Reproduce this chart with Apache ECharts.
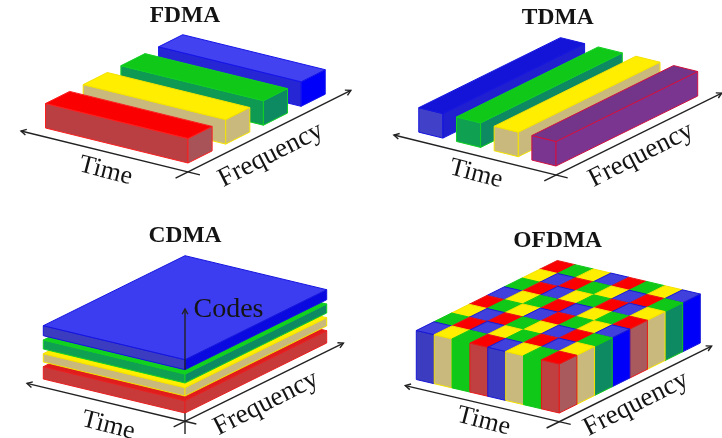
<!DOCTYPE html>
<html><head><meta charset="utf-8">
<style>html,body{margin:0;padding:0;background:#fff}#c{width:722px;height:438px;filter:blur(0.45px)}</style>
<script src="https://cdn.jsdelivr.net/npm/echarts@6/dist/echarts.min.js"></script>
</head><body><div id="c"></div>
<script>
// ---- data ----
const panelNames = ['FDMA', 'TDMA', 'CDMA', 'OFDMA'];
const timeLabel = 'Time';
const frequencyLabel = 'Frequency';
const codesLabel = 'Codes';
// FDMA: one band per frequency slot, nearest first
const fdmaBands = ['red', 'yellow', 'green', 'blue'];
// TDMA: one band per time slot, nearest first
const tdmaSlots = ['purple', 'yellow', 'green', 'blue'];
// CDMA: stacked code layers, lowest first, heights in picture units
const cdmaLayers = ['red', 'yellow', 'green', 'blue'];
const cdmaBottoms = [0, 17, 30, 43.3];
const cdmaTops = [12.3, 25.3, 39, 53.3];
// OFDMA: resource grid; row = frequency index, letter = time index (near to far)
const ofdmaRows = [
  'RGYBRGYB', 'YBRGYBRG', 'GRBYGRBY', 'BYGRBYGR',
  'RGYBRGYB', 'YBRGYBRG', 'GRBYGRBY', 'BYGRBYGR'
];
const letterColour = { R: 'red', G: 'green', Y: 'yellow', B: 'blue' };

// ---- palettes: top, left (front-left face), right (front-right face), edge ----
const yellowFace = { top: '#ffee00', left: '#c9b97c', right: '#c9b97c', edge: '#f4e200' };
const palettes = {
  FDMA: {
    red: { top: '#fb0000', left: '#b93f42', right: '#a85358', edge: '#fb2020' },
    yellow: yellowFace,
    green: { top: '#10c818', left: '#0e9a52', right: '#0e8a62', edge: '#10d022' },
    blue: { top: '#4242f0', left: '#2626d4', right: '#0000fa', edge: '#1414ea' }
  },
  TDMA: {
    purple: { top: '#72358a', left: '#7a3590', right: '#7a3590', edge: '#d01040' },
    yellow: yellowFace,
    green: { top: '#10c818', left: '#10a052', right: '#0e8a62', edge: '#10d022' },
    blue: { top: '#1414d8', left: '#4040c8', right: '#2020d0', edge: '#1414e0' }
  },
  CDMA: {
    red: { top: '#e01c1c', left: '#c83a3a', right: '#c83a3a', edge: '#e82020' },
    yellow: yellowFace,
    green: { top: '#10d020', left: '#10a052', right: '#0e8a62', edge: '#10d022' },
    blue: { top: '#3c3cf0', left: '#3c3cc0', right: '#0a0ae0', edge: '#1414e0' }
  },
  OFDMA: {
    red: { top: '#fb0000', left: '#c04042', right: '#a85a5c', edge: '#e81818' },
    yellow: yellowFace,
    green: { top: '#10c818', left: '#10c818', right: '#0e8a62', edge: '#10c818' },
    blue: { top: '#4040dc', left: '#3c3cc0', right: '#0000fa', edge: '#1818d8' }
  }
};

// ---- boxes in logical (time, frequency, height) units ----
const BAR = 0.64;
const fdmaBoxes = [...fdmaBands.keys()].reverse().map(i => ({ t0: 0, t1: 1, f0: i, f1: i + BAR, z0: 0, z1: 24.5, c: fdmaBands[i] }));
const tdmaBoxes = [...tdmaSlots.keys()].reverse().map(i => ({ t0: i, t1: i + BAR, f0: 0, f1: 1, z0: 0, z1: 24.5, c: tdmaSlots[i] }));
const cdmaBoxes = cdmaLayers.map((c, i) => ({ t0: 0, t1: 1, f0: 0, f1: 1, z0: cdmaBottoms[i], z1: cdmaTops[i], c }));
const ofdmaBoxes = [];
for (let j = ofdmaRows.length - 1; j >= 0; j--) {
  for (let i = ofdmaRows[j].length - 1; i >= 0; i--) {
    ofdmaBoxes.push({ t0: i / 8, t1: (i + 1) / 8, f0: j / 8, f1: (j + 1) / 8, z0: 0, z1: 49, c: letterColour[ofdmaRows[j][i]] });
  }
}

// ---- oblique projections for each panel ----
const panels = [
  { name: 'FDMA', boxes: fdmaBoxes, o: [188, 163], tv: [-142.5, -35], fv: [37.7, -18.9], axisZ: -9,
    tSpan: [-0.084, 1.172], fSpan: [-0.33, 4.32],
    title: [185, 16], time: [105.7, 171], freq: [270.7, 155] },
  { name: 'TDMA', boxes: tdmaBoxes, o: [556, 166], tv: [-37.7, -9.3], fv: [141.7, -70], axisZ: -9,
    tSpan: [-0.31, 4.3], fSpan: [-0.083, 1.17],
    title: [557.7, 18.3], time: [476, 174], freq: [641, 155] },
  { name: 'CDMA', boxes: cdmaBoxes, o: [185, 413], tv: [-141.7, -34], fv: [141.7, -70], axisZ: -8.3,
    tSpan: [-0.08, 1.115], fSpan: [-0.08, 1.118],
    title: [185, 235.7], time: [108.3, 425.7], freq: [266, 403.3], codes: [193.5, 309.7], zLow: [-21, 0], zHigh: [43.3, 104] },
  { name: 'OFDMA', boxes: ofdmaBoxes, o: [559.3, 413], tv: [-143, -33.5], fv: [141, -70], axisZ: -8.7,
    tSpan: [-0.08, 1.077], fSpan: [-0.09, 1.08],
    title: [557.7, 240.7], time: [483.7, 421.3], freq: [636, 404] }
];
const project = (p, t, f, z) => [p.o[0] + t * p.tv[0] + f * p.fv[0], p.o[1] + t * p.tv[1] + f * p.fv[1] - z];

const AXIS_COLOUR = '#222222';
const TEXT_COLOUR = '#141414';
const FONT = '"Liberation Serif", serif';

function boxRender(p) {
  return (params, api) => {
    const b = p.boxes[params.dataIndex];
    const s = palettes[p.name][b.c];
    const c = (t, f, z) => api.coord(project(p, t, f, z));
    const face = (points, fill) => ({
      type: 'polygon', shape: { points },
      style: { fill, stroke: s.edge, lineWidth: 1, lineJoin: 'round' }
    });
    return {
      type: 'group',
      children: [
        face([c(b.t0, b.f0, b.z1), c(b.t1, b.f0, b.z1), c(b.t1, b.f0, b.z0), c(b.t0, b.f0, b.z0)], s.left),
        face([c(b.t0, b.f0, b.z1), c(b.t0, b.f1, b.z1), c(b.t0, b.f1, b.z0), c(b.t0, b.f0, b.z0)], s.right),
        face([c(b.t0, b.f0, b.z1), c(b.t1, b.f0, b.z1), c(b.t1, b.f1, b.z1), c(b.t0, b.f1, b.z1)], s.top)
      ]
    };
  };
}

function arrow(from, to, withHead) {
  const children = [{ type: 'line', shape: { x1: from[0], y1: from[1], x2: to[0], y2: to[1] },
    style: { stroke: AXIS_COLOUR, lineWidth: 1.4 } }];
  if (withHead) {
    const a = Math.atan2(to[1] - from[1], to[0] - from[0]);
    const back = d => [to[0] - 6 * Math.cos(a + d), to[1] - 6 * Math.sin(a + d)];
    children.push({ type: 'polyline', shape: { points: [back(0.5), to, back(-0.5)] },
      style: { stroke: AXIS_COLOUR, fill: null, lineWidth: 1.4 } });
  }
  return children;
}

function axisRender(p) {
  return (params, api) => {
    const c = (t, f, z) => api.coord(project(p, t, f, z));
    const children = [
      ...arrow(c(p.tSpan[0], 0, p.axisZ), c(p.tSpan[1], 0, p.axisZ), true),
      ...arrow(c(0, p.fSpan[0], p.axisZ), c(0, p.fSpan[1], p.axisZ), true)
    ];
    if (p.zLow) children.push(...arrow(c(0, 0, p.zLow[0]), c(0, 0, p.zLow[1]), false));
    return { type: 'group', children };
  };
}

function upperAxisRender(p) {
  return (params, api) => {
    const c = (t, f, z) => api.coord(project(p, t, f, z));
    return { type: 'group', children: arrow(c(0, 0, p.zHigh[0]), c(0, 0, p.zHigh[1]), true) };
  };
}

function textRender(p) {
  const items = [
    { text: p.name, at: p.title, size: 23.5, weight: 'bold', rot: 0, align: 'center' },
    { text: timeLabel, at: p.time, size: 26, weight: 'normal', rot: -14.5, align: 'center' },
    { text: frequencyLabel, at: p.freq, size: 27, weight: 'normal', rot: 27, align: 'center' }
  ];
  if (p.codes) items.push({ text: codesLabel, at: p.codes, size: 28, weight: 'normal', rot: 0, align: 'left' });
  return (params, api) => ({
    type: 'group',
    children: items.map(it => {
      const pos = api.coord(it.at);
      return {
        type: 'text', x: pos[0], y: pos[1], rotation: it.rot * Math.PI / 180,
        style: { text: it.text, fill: TEXT_COLOUR, font: it.weight + ' ' + it.size + 'px ' + FONT,
          textAlign: it.align, textVerticalAlign: 'middle' }
      };
    })
  });
}

const series = [];
const base = { type: 'custom', coordinateSystem: 'cartesian2d', silent: true, clip: false, animation: false };
panels.forEach(p => {
  series.push({ ...base, name: p.name + ' axes', z: 1, renderItem: axisRender(p), data: [[p.o[0], p.o[1]]] });
  series.push({ ...base, name: p.name, z: 2, renderItem: boxRender(p),
    data: p.boxes.map(b => [b.t0, b.f0, b.t1, b.f1, b.z0, b.z1]),
    encode: { x: 0, y: 1 } });
  if (p.zHigh) series.push({ ...base, name: p.name + ' codes axis', z: 3, renderItem: upperAxisRender(p), data: [[p.o[0], p.o[1]]] });
  series.push({ ...base, name: p.name + ' text', z: 4, renderItem: textRender(p), data: [[p.o[0], p.o[1]]] });
});

const chart = echarts.init(document.getElementById('c'), null, { renderer: 'canvas' });
chart.setOption({
  animation: false,
  backgroundColor: '#ffffff',
  grid: { left: 0, top: 0, right: 0, bottom: 0, containLabel: false },
  xAxis: { type: 'value', min: 0, max: 722, show: false },
  yAxis: { type: 'value', min: 0, max: 438, inverse: true, show: false },
  tooltip: { show: false },
  series
});
</script></body></html>
